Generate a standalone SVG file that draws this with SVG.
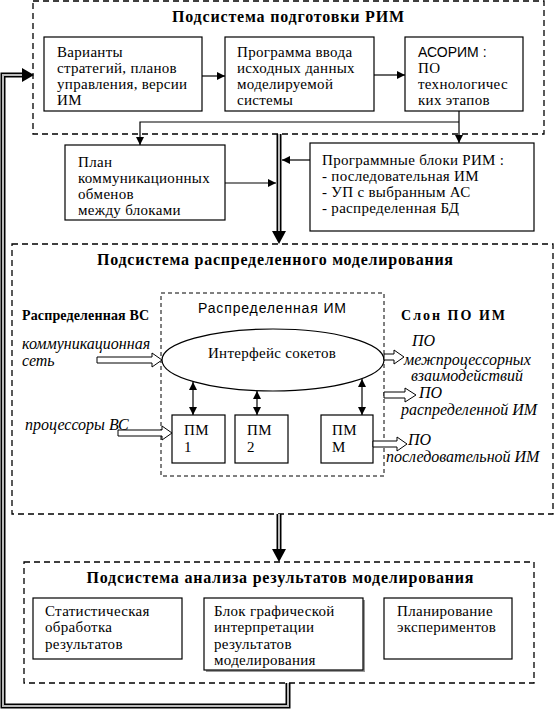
<svg xmlns="http://www.w3.org/2000/svg" width="556" height="710" viewBox="0 0 556 710">
<style>
.dash{fill:none;stroke:#000;stroke-width:1.3;stroke-dasharray:6 4}
.dash2{fill:none;stroke:#000;stroke-width:1;stroke-dasharray:4 3}
.box{fill:#fff;stroke:#000;stroke-width:1.2}
.t{font-family:"Liberation Serif","Times New Roman",serif;font-size:15px;letter-spacing:0.3px;fill:#000}
.s{font-family:"Liberation Sans",Arial,sans-serif;font-size:14px;fill:#000}
.h{font-family:"Liberation Serif","Times New Roman",serif;font-size:16px;font-weight:bold;fill:#000}
.b{font-family:"Liberation Serif","Times New Roman",serif;font-size:14px;font-weight:bold;fill:#000}
.i{font-family:"Liberation Serif","Times New Roman",serif;font-size:16px;font-style:italic;fill:#000}
.ln{fill:none;stroke:#000;stroke-width:1.2}
.thk{fill:none;stroke:#000;stroke-width:5}
.thki{fill:none;stroke:#bbb;stroke-width:2}
.hol{fill:#fff;stroke:#000;stroke-width:1}
</style>
<defs>
<marker id="ar" viewBox="0 0 10 10" refX="10" refY="5" markerWidth="8" markerHeight="8" markerUnits="userSpaceOnUse" orient="auto-start-reverse">
<path d="M0,0 L10,5 L0,10 z" fill="#000"/>
</marker>
</defs>

<!-- Subsystem containers -->
<g id="sub-prep">
<rect class="dash" x="33" y="1" width="511" height="133"/>
<text class="h" x="288" y="22" text-anchor="middle" textLength="232">Подсистема подготовки РИМ</text>
</g>
<g id="sub-dist">
<rect class="dash" x="12" y="244" width="541" height="270"/>
<text class="h" x="275" y="265" text-anchor="middle" textLength="356">Подсистема распределенного моделирования</text>
<text class="b" x="22" y="320" textLength="127">Распределенная ВС</text>
<text class="b" x="401" y="320" textLength="104">Слон ПО ИМ</text>
</g>
<g id="sub-dist-im">
<rect class="dash2" x="161" y="293" width="223" height="183"/>
<text class="s" x="272" y="313" text-anchor="middle" font-size="15" textLength="148">Распределенная ИМ</text>
</g>
<g id="sub-analysis">
<rect class="dash" x="24" y="562" width="510" height="121"/>
<text class="h" x="280" y="583" text-anchor="middle" textLength="387">Подсистема анализа результатов моделирования</text>
</g>

<!-- Nodes -->
<g id="n-variants">
<rect class="box" x="44" y="37" width="158" height="74"/>
<text class="t"><tspan x="57" y="57">Варианты</tspan><tspan x="57" y="73">стратегий, планов</tspan><tspan x="57" y="89">управления, версии</tspan><tspan x="57" y="105">ИМ</tspan></text>
</g>
<g id="n-input">
<rect class="box" x="225" y="37" width="149" height="74"/>
<text class="t"><tspan x="237" y="57">Программа ввода</tspan><tspan x="237" y="73">исходных данных</tspan><tspan x="237" y="89">моделируемой</tspan><tspan x="237" y="105">системы</tspan></text>
</g>
<g id="n-asorim">
<rect class="box" x="405" y="37" width="118" height="74"/>
<text class="s" x="418" y="57">АСОРИМ :</text>
<text class="t"><tspan x="418" y="73">ПО</tspan><tspan x="418" y="89">технологичес</tspan><tspan x="418" y="105">ких этапов</tspan></text>
</g>
<g id="n-plan">
<rect class="box" x="65" y="145" width="160" height="75"/>
<text class="t"><tspan x="78" y="167">План</tspan><tspan x="78" y="183">коммуникационных</tspan><tspan x="78" y="199">обменов</tspan><tspan x="78" y="215">между блоками</tspan></text>
</g>
<g id="n-blocks">
<rect class="box" x="310" y="143" width="224" height="88"/>
<text class="t"><tspan x="322" y="165">Программные блоки РИМ :</tspan><tspan x="322" y="181">- последовательная ИМ</tspan><tspan x="322" y="197">- УП с выбранным АС</tspan><tspan x="322" y="213">- распределенная БД</tspan></text>
</g>
<g id="n-socket">
<ellipse cx="273" cy="360" rx="111" ry="31" fill="#fff" stroke="#000" stroke-width="1.2"/>
<text class="t" x="272" y="358" text-anchor="middle">Интерфейс сокетов</text>
</g>
<g id="n-pm1">
<rect class="box" x="172" y="415" width="53" height="48"/>
<text class="t"><tspan x="184" y="435">ПМ</tspan><tspan x="184" y="452">1</tspan></text>
</g>
<g id="n-pm2">
<rect class="box" x="235" y="415" width="53" height="48"/>
<text class="t"><tspan x="247" y="435">ПМ</tspan><tspan x="247" y="452">2</tspan></text>
</g>
<g id="n-pmm">
<rect class="box" x="321" y="415" width="52" height="48"/>
<text class="t"><tspan x="332" y="435">ПМ</tspan><tspan x="332" y="452">М</tspan></text>
</g>
<g id="n-stat">
<rect class="box" x="33" y="598" width="149" height="61"/>
<text class="t"><tspan x="45" y="616">Статистическая</tspan><tspan x="45" y="632">обработка</tspan><tspan x="45" y="649">результатов</tspan></text>
</g>
<g id="n-graph">
<rect x="206" y="600" width="159" height="72" fill="#999"/>
<rect class="box" x="204" y="598" width="159" height="72"/>
<text class="t"><tspan x="214" y="616">Блок графической</tspan><tspan x="214" y="632">интерпретации</tspan><tspan x="214" y="649">результатов</tspan><tspan x="214" y="665">моделирования</tspan></text>
</g>
<g id="n-exp">
<rect class="box" x="384" y="598" width="128" height="61"/>
<text class="t"><tspan x="397" y="616">Планирование</tspan><tspan x="397" y="632">экспериментов</tspan></text>
</g>

<!-- Labels (italic) -->
<g id="labels">
<text class="i"><tspan x="22" y="349">коммуникационная</tspan><tspan x="22" y="366">сеть</tspan></text>
<text class="i" x="25" y="430">процессоры ВС</text>
<text class="i"><tspan x="412" y="346">ПО</tspan><tspan x="404" y="365">межпроцессорных</tspan><tspan x="411" y="381">взаимодействий</tspan></text>
<text class="i"><tspan x="419" y="398">ПО</tspan><tspan x="401" y="415">распределенной ИМ</tspan></text>
<text class="i"><tspan x="408" y="445">ПО</tspan><tspan x="386" y="462">последовательной ИМ</tspan></text>
</g>

<!-- Connectors -->
<g id="connectors">
<line class="ln" x1="202" y1="76" x2="225" y2="76" marker-end="url(#ar)"/>
<line class="ln" x1="374" y1="75" x2="405" y2="75" marker-end="url(#ar)"/>
<line class="ln" x1="459" y1="111" x2="459" y2="143" marker-end="url(#ar)"/>
<polyline class="ln" points="459,122 140,122 140,145" marker-end="url(#ar)"/>
<line class="ln" x1="225" y1="183" x2="276" y2="183" marker-end="url(#ar)"/>
<line class="ln" x1="310" y1="160" x2="282" y2="160" marker-end="url(#ar)"/>

<!-- thick double-line arrows -->
<line class="thk" x1="279" y1="134" x2="279" y2="233"/>
<line class="thki" x1="279" y1="134" x2="279" y2="233"/>
<path d="M272,231 L286,231 L279,244 z" fill="#000"/>
<line class="thk" x1="279" y1="514" x2="279" y2="551"/>
<line class="thki" x1="279" y1="514" x2="279" y2="551"/>
<path d="M272,549 L286,549 L279,562 z" fill="#000"/>
<path class="thk" d="M288,683 V706 H3 V75 H23"/>
<path class="thki" d="M288,683 V706 H3 V75 H23"/>
<path d="M22,68 L22,82 L34,75 z" fill="#000"/>

<!-- double-headed arrows -->
<line class="ln" x1="193" y1="382" x2="193" y2="415" marker-start="url(#ar)" marker-end="url(#ar)"/>
<line class="ln" x1="257" y1="391" x2="257" y2="415" marker-start="url(#ar)" marker-end="url(#ar)"/>
<line class="ln" x1="362" y1="379" x2="362" y2="415" marker-start="url(#ar)" marker-end="url(#ar)"/>

<!-- hollow arrows -->
<path class="hol" d="M97,357 H152 V353 L162,360 L152,367 V363 H97 z"/>
<path class="hol" d="M118,430 H162 V426 L172,433 L162,440 V436 H118 z"/>
<path class="hol" d="M384,354 H394 V350 L404,357 L394,364 V360 H384 z"/>
<path class="hol" d="M384,392 H405 V388 L416,395 L405,402 V398 H384 z"/>
<path class="hol" d="M373,441 H397 V437 L407,444 L397,451 V447 H373 z"/>
</g>
</svg>
